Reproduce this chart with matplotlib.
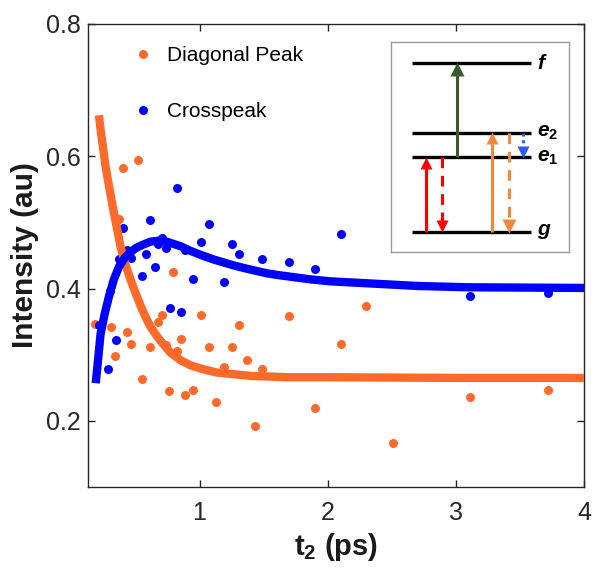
import numpy as np
import matplotlib
matplotlib.use("Agg")
import matplotlib.pyplot as plt
from matplotlib.lines import Line2D

plt.rcParams['font.family'] = ['Liberation Sans', 'DejaVu Sans']
plt.rcParams['mathtext.fontset'] = 'custom'
plt.rcParams['mathtext.rm'] = 'Liberation Sans:bold'
plt.rcParams['mathtext.it'] = 'Liberation Sans:bold:italic'
plt.rcParams['mathtext.bf'] = 'Liberation Sans:bold'

# Diagonal peak data (t2 in ps, intensity in au)
diag_t = [0.184, 0.312, 0.343, 0.371, 0.402, 0.433, 0.462, 0.522, 0.553, 0.61,
          0.675, 0.704, 0.737, 0.764, 0.795, 0.826, 0.857, 0.889, 0.951, 1.01,
          1.07, 1.13, 1.19, 1.25, 1.31, 1.374, 1.434, 1.49, 1.70, 1.90,
          2.10, 2.30, 2.51, 3.11, 3.72]
diag_y = [0.346, 0.342, 0.298, 0.505, 0.583, 0.335, 0.316, 0.595, 0.263, 0.311,
          0.350, 0.360, 0.315, 0.245, 0.425, 0.306, 0.324, 0.239, 0.246, 0.360,
          0.311, 0.228, 0.282, 0.311, 0.345, 0.292, 0.193, 0.279, 0.358, 0.219,
          0.316, 0.374, 0.166, 0.236, 0.246]

# Crosspeak data
cross_t = [0.215, 0.283, 0.298, 0.345, 0.371, 0.402, 0.433, 0.462, 0.553, 0.585,
           0.613, 0.649, 0.675, 0.709, 0.737, 0.766, 0.826, 0.857, 0.889, 0.951,
           1.01, 1.07, 1.19, 1.25, 1.31, 1.49, 1.70, 1.90, 2.10, 3.11, 3.72]
cross_y = [0.345, 0.279, 0.397, 0.323, 0.444, 0.491, 0.458, 0.446, 0.419, 0.452,
           0.503, 0.433, 0.468, 0.476, 0.461, 0.370, 0.552, 0.364, 0.458, 0.414,
           0.471, 0.497, 0.410, 0.468, 0.452, 0.444, 0.440, 0.430, 0.482, 0.389, 0.393]

# Fit curves
diag_fit_t = [0.215, 0.228, 0.267, 0.30, 0.332, 0.36, 0.384, 0.41, 0.436, 0.47, 0.501,
              0.54, 0.579, 0.618, 0.683, 0.735, 0.774, 0.85, 0.93, 1.03, 1.138,
              1.40, 1.7, 2.02, 3.0, 4.0]
diag_fit_y = [0.662, 0.640, 0.584, 0.548, 0.514, 0.487, 0.463, 0.444, 0.428, 0.409, 0.393,
              0.374, 0.357, 0.342, 0.324, 0.312, 0.303, 0.292, 0.284, 0.278, 0.273,
              0.268, 0.266, 0.266, 0.265, 0.265]

cross_fit_t = [0.19, 0.228, 0.26, 0.293, 0.33, 0.371, 0.41, 0.449, 0.50, 0.553,
               0.618, 0.709, 0.774, 0.852, 0.93, 1.008, 1.11, 1.267, 1.37, 1.528,
               1.63, 1.865, 2.02, 2.31, 2.7, 3.09, 4.0]
cross_fit_y = [0.257, 0.332, 0.362, 0.388, 0.413, 0.433, 0.445, 0.453, 0.461, 0.466,
               0.471, 0.473, 0.469, 0.464, 0.457, 0.451, 0.444, 0.435, 0.430, 0.423,
               0.420, 0.414, 0.411, 0.408, 0.404, 0.402, 0.401]

# Inset energy levels (relative units, g = 0)
level_names = [r'$\mathit{g}$', r'$\mathit{e_1}$', r'$\mathit{e_2}$', r'$\mathit{f}$']
level_E = [0.0, 1.0, 1.33, 2.26]

orange = '#ff6a2b'
blue = '#0000ff'
dark = '#262626'

fig = plt.figure(figsize=(5.95, 5.71), dpi=100)
ax = fig.add_axes([0.148, 0.147, 0.8335, 0.811])

ax.scatter(diag_t, diag_y, s=42, color=orange, linewidths=0, zorder=2)
ax.scatter(cross_t, cross_y, s=42, color=blue, linewidths=0, zorder=2)
ax.plot(diag_fit_t, diag_fit_y, color=orange, lw=6, solid_capstyle='butt', zorder=3)
ax.plot(cross_fit_t, cross_fit_y, color=blue, lw=6, solid_capstyle='butt', zorder=4)

ax.set_xlim(0.13, 4.0)
ax.set_ylim(0.1, 0.8)
ax.set_xticks([1, 2, 3, 4])
ax.set_yticks([0.2, 0.4, 0.6, 0.8])
ax.set_xticklabels(['1', '2', '3', '4'])
ax.set_yticklabels(['0.2', '0.4', '0.6', '0.8'])
ax.tick_params(direction='in', length=5, width=1, colors=dark, labelsize=18,
               top=True, right=True)
ax.tick_params(axis='x', pad=10)
ax.tick_params(axis='y', pad=5)
for sp in ax.spines.values():
    sp.set_color(dark)
    sp.set_linewidth(1)

ax.set_ylabel('Intensity (au)', fontsize=21.5, fontweight='bold', color='#1a1a1a', labelpad=5)
ax.set_xlabel(r't$_2$ (ps)', fontsize=21, fontweight='bold', color='#1a1a1a', labelpad=4)

handles = [Line2D([], [], ls='none', marker='o', ms=6.5, color=orange, mec='none'),
           Line2D([], [], ls='none', marker='o', ms=6.5, color=blue, mec='none')]
ax.legend(handles, ['Diagonal Peak', 'Crosspeak'], loc='upper left',
          bbox_to_anchor=(0.052, 0.993), frameon=False, fontsize=15,
          labelspacing=1.8, handletextpad=0.65, handlelength=1.0)

# Inset level diagram
ins = fig.add_axes([0.657, 0.5587, 0.299, 0.368])
ins.set_xlim(0, 1)
ins.set_ylim(-0.273, 2.55)
ins.set_xticks([])
ins.set_yticks([])
for sp in ins.spines.values():
    sp.set_color('#9a9a9a')
    sp.set_linewidth(1)

for name, E in zip(level_names, level_E):
    ins.plot([0.116, 0.79], [E, E], color='black', lw=2.4, solid_capstyle='butt')
    ins.text(0.82, E, name, fontsize=15, va='center', ha='left')


def up_arrow(x, y0, y1, color, ls='-', ms=9):
    ins.plot([x, x], [y0, y1 - 0.12], color=color, lw=2.2, ls=ls, solid_capstyle='butt')
    ins.plot([x], [y1 - 0.075], marker='^', ms=ms, color=color, mec='none')


def down_arrow(x, y0, y1, color, ls='-', ms=9):
    ins.plot([x, x], [y0, y1 + 0.12], color=color, lw=2.2, ls=ls, dash_capstyle='butt')
    ins.plot([x], [y1 + 0.075], marker='v', ms=ms, color=color, mec='none')


up_arrow(0.20, level_E[0], level_E[1], '#ff0000')
down_arrow(0.285, level_E[1], level_E[0], '#ff0000', ls=(0, (3.5, 2.5)))
up_arrow(0.369, level_E[1], level_E[3], '#3b5a2a', ms=10)
up_arrow(0.571, level_E[0], level_E[2], '#ef8a3c')
down_arrow(0.665, level_E[2], level_E[0], '#ef8a3c', ls=(0, (3.5, 2.5)), ms=10)
down_arrow(0.743, level_E[2], level_E[1], '#2d5bef', ls=(0, (1, 1.2)))

fig.savefig('out.png', dpi=100)
